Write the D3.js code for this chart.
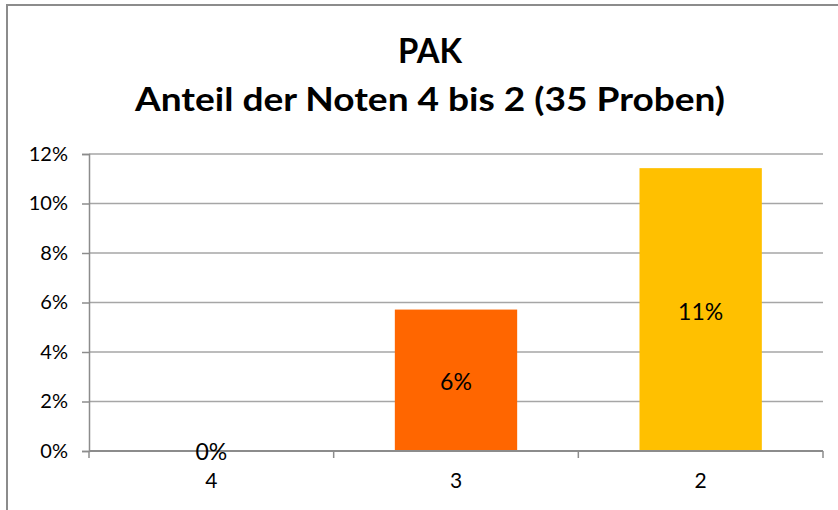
<!DOCTYPE html>
<html><head><meta charset="utf-8">
<script src="https://cdn.jsdelivr.net/npm/d3@7"></script>
<style>body{margin:0;background:#fff}svg{display:block}</style>
</head><body>
<script>
const categories = ["4", "3", "2"];
const values = [0, 2/35, 4/35];
const labels = ["0%", "6%", "11%"];
const colors = ["#FF6600", "#FF6600", "#FFC000"];
const yTicks = [0, 0.02, 0.04, 0.06, 0.08, 0.10, 0.12];
const titleLines = ["PAK", "Anteil der Noten 4 bis 2 (35 Proben)"];

const W = 838, H = 510;
const font = "Lato, 'Open Sans', sans-serif";
const svg = d3.select("body").append("svg").attr("width", W).attr("height", H);

svg.append("rect").attr("x", 7).attr("y", 5).attr("width", 850).attr("height", 520)
  .attr("fill", "#fff").attr("stroke", "#8c8c8c").attr("stroke-width", 2);

const L = 89, R = 823, T = 154, B = 451;
const x = d3.scaleBand().domain(categories).range([L, R]).paddingInner(0.5).paddingOuter(0.25);
const xb = d3.scaleBand().domain(categories).range([L, R]);
const y = d3.scaleLinear().domain([0, 0.12]).range([B, T]);

// gridlines
svg.append("g").selectAll("line").data(yTicks.slice(1)).join("line")
  .attr("x1", L).attr("x2", R).attr("y1", d => y(d)).attr("y2", d => y(d))
  .attr("stroke", "#a6a6a6").attr("stroke-width", 1.5);

// y axis
const yAxis = svg.append("g").attr("transform", `translate(${L},0)`)
  .call(d3.axisLeft(y).tickValues(yTicks).tickFormat(d3.format(".0%")).tickSize(7).tickPadding(14));
yAxis.select(".domain").attr("stroke", "#8c8c8c").attr("stroke-width", 1.5);
yAxis.selectAll(".tick line").attr("stroke", "#8c8c8c").attr("stroke-width", 1.5);
yAxis.selectAll("text").attr("font-family", font).attr("font-size", 20).attr("fill", "#000");

// bars
svg.append("g").selectAll("rect").data(values).join("rect")
  .attr("x", (d, i) => x(categories[i])).attr("width", x.bandwidth())
  .attr("y", d => y(d)).attr("height", d => B - y(d))
  .attr("fill", (d, i) => colors[i]);

// x axis
svg.append("line").attr("x1", L).attr("x2", R).attr("y1", B).attr("y2", B)
  .attr("stroke", "#8c8c8c").attr("stroke-width", 2);
svg.append("g").selectAll("line").data(categories.slice(1)).join("line")
  .attr("x1", d => xb(d)).attr("x2", d => xb(d)).attr("y1", B).attr("y2", B + 7)
  .attr("stroke", "#8c8c8c").attr("stroke-width", 1.5);
svg.append("line").attr("x1", R).attr("x2", R).attr("y1", B).attr("y2", B + 7)
  .attr("stroke", "#8c8c8c").attr("stroke-width", 1.5);
svg.append("line").attr("x1", L).attr("x2", L).attr("y1", B).attr("y2", B + 7)
  .attr("stroke", "#8c8c8c").attr("stroke-width", 1.5);
svg.append("g").selectAll("text").data(categories).join("text")
  .attr("x", d => xb(d) + xb.bandwidth() / 2).attr("y", B + 37)
  .attr("text-anchor", "middle").attr("font-family", font).attr("font-size", 21)
  .text(d => d);

// data labels
svg.append("g").selectAll("text").data(values).join("text")
  .attr("x", (d, i) => xb(categories[i]) + xb.bandwidth() / 2)
  .attr("y", d => d === 0 ? B + 9 : (y(d) + B) / 2 + 10)
  .attr("text-anchor", "middle").attr("font-family", font).attr("font-size", 23)
  .text((d, i) => labels[i]);

// title
svg.append("text").attr("x", 430).attr("y", 63).attr("text-anchor", "middle")
  .attr("font-family", font).attr("font-weight", "bold").attr("font-size", 35)
  .attr("textLength", 64).attr("lengthAdjust", "spacingAndGlyphs").text(titleLines[0]);
svg.append("text").attr("x", 430).attr("y", 111).attr("text-anchor", "middle")
  .attr("font-family", font).attr("font-weight", "bold").attr("font-size", 32)
  .attr("textLength", 590).attr("lengthAdjust", "spacingAndGlyphs").text(titleLines[1]);
</script>
</body></html>
